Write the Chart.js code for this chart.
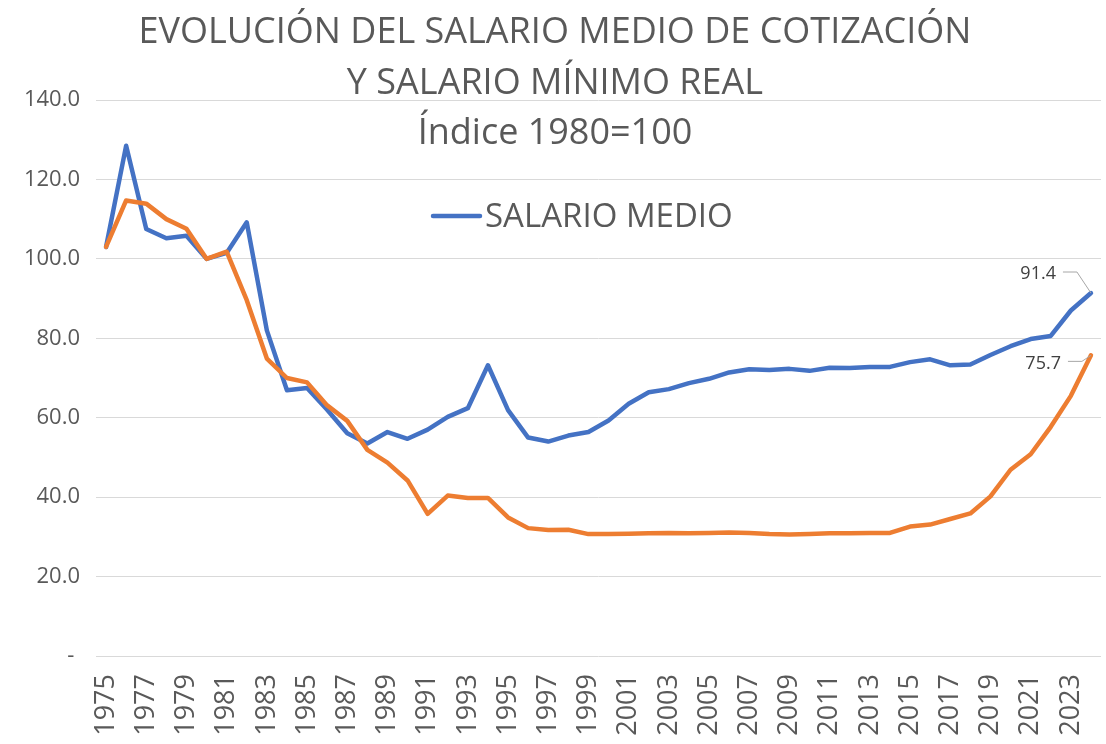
<!DOCTYPE html>
<html>
<head>
<meta charset="utf-8">
<script src="https://cdn.jsdelivr.net/npm/chart.js@4.4.1/dist/chart.umd.min.js"></script>
<style>
  body { margin: 0; background: #fff; }
  #wrap { width: 1106px; height: 744px; }
</style>
</head>
<body>
<div id="wrap"><canvas id="chartSalario"></canvas></div>
<script>
var years = [
  "1975", "1976", "1977", "1978", "1979", "1980", "1981", "1982", "1983", "1984",
  "1985", "1986", "1987", "1988", "1989", "1990", "1991", "1992", "1993", "1994",
  "1995", "1996", "1997", "1998", "1999", "2000", "2001", "2002", "2003", "2004",
  "2005", "2006", "2007", "2008", "2009", "2010", "2011", "2012", "2013", "2014",
  "2015", "2016", "2017", "2018", "2019", "2020", "2021", "2022", "2023", "2024"
];
var salarioMedio = [
  103.0, 128.5, 107.5, 105.2, 105.8, 100.0, 101.5, 109.2, 82.0, 66.9,
  67.5, 62.0, 56.1, 53.5, 56.4, 54.7, 57.0, 60.2, 62.4, 73.2,
  61.9, 55.0, 54.0, 55.5, 56.4, 59.3, 63.5, 66.4, 67.2, 68.7,
  69.8, 71.4, 72.2, 72.0, 72.3, 71.8, 72.6, 72.5, 72.8, 72.8,
  74.0, 74.7, 73.2, 73.4, 75.8, 78.0, 79.8, 80.6, 87.0, 91.4
];
var salarioMinimo = [
  103.0, 114.7, 113.9, 110.0, 107.6, 100.0, 101.8, 89.6, 74.9, 70.0,
  68.9, 63.1, 59.2, 51.9, 48.7, 44.2, 35.8, 40.4, 39.8, 39.8,
  34.9, 32.2, 31.7, 31.8, 30.7, 30.7, 30.8, 30.9, 31.0, 30.9,
  31.0, 31.1, 31.0, 30.7, 30.6, 30.7, 30.9, 30.9, 31.0, 31.0,
  32.6, 33.1, 34.5, 35.9, 40.2, 46.9, 50.8, 57.7, 65.5, 75.7
];
var yTicks = [0, 20, 40, 60, 80, 100, 120, 140];
var titleLines = [
  "EVOLUCIÓN DEL SALARIO MEDIO DE COTIZACIÓN",
  "Y SALARIO MÍNIMO REAL",
  "Índice 1980=100"
];
var legendLabel = "SALARIO MEDIO";

var textColor = "#595959";
var font = '"Open Sans", "Noto Sans", sans-serif';

// titulo y leyenda dibujados encima del area del grafico, como en Excel
var tituloPlugin = {
  id: "tituloExcel",
  afterDraw: function (chart) {
    var c = chart.ctx;
    c.save();
    c.fillStyle = textColor;
    c.textAlign = "center";
    c.textBaseline = "alphabetic";
    c.font = "36px " + font;
    titleLines.forEach(function (t, i) {
      c.fillText(t, 555, 43 + i * 50.5);
    });

    // leyenda: solo la serie azul
    c.strokeStyle = "#4472C4";
    c.lineWidth = 4.5;
    c.lineCap = "round";
    c.beginPath();
    c.moveTo(433, 216);
    c.lineTo(480, 216);
    c.stroke();
    c.textAlign = "left";
    c.font = "33px " + font;
    c.fillText(legendLabel, 485, 227);
    c.restore();
  },
};

// etiquetas del ultimo dato con linea guia
var etiquetasPlugin = {
  id: "etiquetasFinal",
  afterDatasetsDraw: function (chart) {
    var c = chart.ctx;
    var offs = [
      { ds: 0, tx: -35, ty: -14, l1: [-28, -21], l2: [-14, -21] },
      { ds: 1, tx: -30, ty: 14, l1: [-23, 6], l2: [-9, 6] },
    ];
    c.save();
    offs.forEach(function (o) {
      var meta = chart.getDatasetMeta(o.ds);
      var pt = meta.data[meta.data.length - 1];
      var val = chart.data.datasets[o.ds].data[meta.data.length - 1];
      c.strokeStyle = "#A6A6A6";
      c.lineWidth = 1;
      c.beginPath();
      c.moveTo(pt.x + o.l1[0], pt.y + o.l1[1]);
      c.lineTo(pt.x + o.l2[0], pt.y + o.l2[1]);
      c.lineTo(pt.x, pt.y);
      c.stroke();
      c.fillStyle = "#404040";
      c.font = "18px " + font;
      c.textAlign = "right";
      c.textBaseline = "alphabetic";
      c.fillText(val.toFixed(1), pt.x + o.tx, pt.y + o.ty);
    });
    c.restore();
  },
};

var ctx = document.getElementById("chartSalario").getContext("2d");
var myChart = new Chart(ctx, {
  type: "line",
  data: {
    labels: years,
    datasets: [
      {
        label: "SALARIO MEDIO",
        data: salarioMedio,
        borderColor: "#4472C4",
        backgroundColor: "#4472C4",
        borderWidth: 4.5,
        pointRadius: 0,
        tension: 0,
        borderCapStyle: "round",
        borderJoinStyle: "round",
        order: 1,
      },
      {
        label: "SALARIO MÍNIMO",
        data: salarioMinimo,
        borderColor: "#ED7D31",
        backgroundColor: "#ED7D31",
        borderWidth: 4.5,
        pointRadius: 0,
        tension: 0,
        borderCapStyle: "round",
        borderJoinStyle: "round",
        order: 0,
      },
    ],
  },
  options: {
    responsive: true,
    maintainAspectRatio: false,
    animation: false,
    layout: {
      padding: { top: 100, right: 5, bottom: 0, left: 0 },
    },
    plugins: {
      legend: { display: false },
      title: { display: false },
      tooltip: { enabled: false },
    },
    scales: {
      x: {
        offset: true,
        grid: { display: false },
        border: { display: false },
        ticks: {
          autoSkip: false,
          minRotation: 90,
          maxRotation: 90,
          padding: 10,
          color: textColor,
          font: { family: font, size: 27 },
          callback: function (value, index) {
            return index % 2 === 0 ? this.getLabelForValue(value) : "";
          },
        },
        afterFit: function (scale) {
          scale.height = 88;
          scale.paddingLeft = 0;
          scale.paddingRight = 0;
        },
      },
      y: {
        min: yTicks[0],
        max: yTicks[yTicks.length - 1],
        border: { display: false },
        grid: { color: "#D9D9D9", lineWidth: 1, drawTicks: false },
        afterBuildTicks: function (scale) {
          scale.ticks = yTicks.map(function (v) { return { value: v }; });
        },
        ticks: {
          padding: 16,
          color: textColor,
          font: { family: font, size: 22 },
          callback: function (v) {
            return v === 0 ? "- " : v.toFixed(1);
          },
        },
        afterFit: function (scale) {
          scale.width = 96;
          scale.paddingTop = 0;
          scale.paddingBottom = 0;
        },
      },
    },
  },
  plugins: [tituloPlugin, etiquetasPlugin],
});
</script>
</body>
</html>
